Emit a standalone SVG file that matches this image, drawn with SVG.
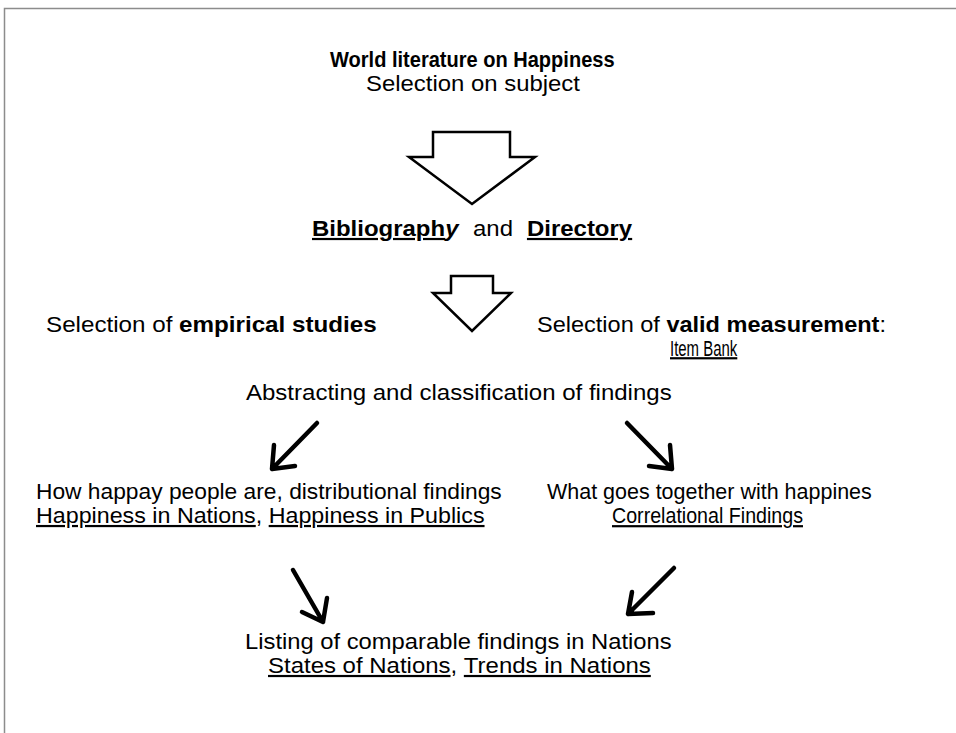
<svg xmlns="http://www.w3.org/2000/svg" width="956" height="733" viewBox="0 0 956 733">
<style>
text{font-family:"Liberation Sans",Arial,sans-serif;font-size:22px;fill:#000}
.b{font-weight:bold}
.u{text-decoration:underline}
.frame{stroke:#8c8c8c;stroke-width:1.5;fill:none}
.hollow{fill:#fff;stroke:#000;stroke-width:2.5;stroke-linejoin:miter}
.thick{fill:none;stroke:#000;stroke-width:4.5;stroke-linecap:round;stroke-linejoin:round}
</style>
<rect width="956" height="733" fill="#fff"/>
<path class="frame" d="M4.5,733 V8.5 H956"/>
<g id="n-world">
<text transform="translate(330,67) scale(0.911,1)" class="b">World literature on Happiness</text>
<text transform="translate(366,91) scale(1.087,1)">Selection on subject</text>
</g>
<g id="n-bibliography">
<text transform="translate(312,236) scale(1.09,1)"><tspan x="0" class="b u">Bibliograph</tspan><tspan class="b" font-style="italic">y</tspan><tspan x="147.7">and</tspan><tspan x="197.2" class="b u">Directory</tspan></text>
</g>
<g id="n-empirical">
<text transform="translate(46,332) scale(1.1,1)">Selection of <tspan class="b">empirical studies</tspan></text>
</g>
<g id="n-valid">
<text transform="translate(537,332) scale(1.069,1)">Selection of <tspan class="b">valid measurement</tspan>:</text>
<text transform="translate(670,356) scale(0.68,1)" class="u">Item Bank</text>
</g>
<g id="n-abstracting">
<text transform="translate(246,400) scale(1.092,1)">Abstracting and classification of findings</text>
</g>
<g id="n-distributional">
<text transform="translate(36,499) scale(1.036,1)">How happay people are, distributional findings</text>
<text transform="translate(36,523) scale(1.058,1)"><tspan class="u">Happiness in Nations</tspan>, <tspan class="u">Happiness in Publics</tspan></text>
</g>
<g id="n-correlational">
<text transform="translate(547,499) scale(0.977,1)">What goes together with happines</text>
<text transform="translate(612,523) scale(0.893,1)" class="u">Correlational Findings</text>
</g>
<g id="n-listing">
<text transform="translate(245,649) scale(1.081,1)">Listing of comparable findings in Nations</text>
<text transform="translate(268,673) scale(1.09,1)"><tspan class="u">States of Nations</tspan>, <tspan class="u">Trends in Nations</tspan></text>
</g>
<g id="connectors">
<polygon class="hollow" points="433,132 510,132 510,157 535,157 472,204 409,157 433,157"/>
<polygon class="hollow" points="451,276 493,276 493,293 511,293 472,331 433,293 451,293"/>
<path class="thick" d="M317,423 L272,469 M274,445 L272,469 L295,466"/>
<path class="thick" d="M627,423 L672,469 M670,445 L672,469 L649,466"/>
<path class="thick" d="M293,570 L323,622 M327,598 L323,622 L302,612"/>
<path class="thick" d="M674,568 L628,614 M632,592 L628,614 L653,613"/>
</g>
</svg>
